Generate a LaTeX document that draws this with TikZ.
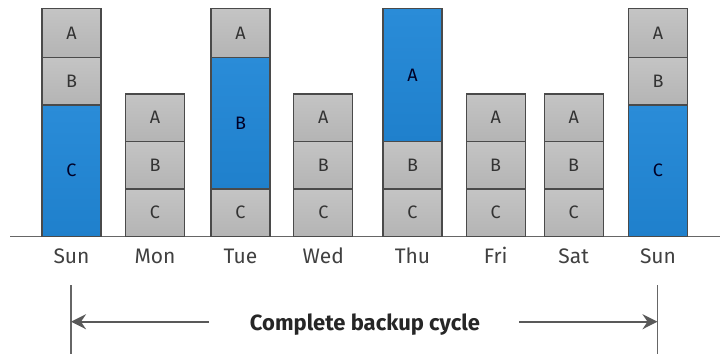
\documentclass[tikz,border=0pt]{standalone}
\usepackage{fontspec}
\setmainfont{Fira Sans}
\usetikzlibrary{arrows.meta}
\definecolor{segblue}{HTML}{2A8CD8}
\definecolor{segblue2}{HTML}{1F80CC}
\definecolor{seggrey}{HTML}{C4C4C4}
\definecolor{seggrey2}{HTML}{B4B4B4}
\definecolor{edgegrey}{HTML}{4A4A4A}

\begin{document}
\begin{tikzpicture}[
    x=1pt, y=-1pt, % pixel units, (0,0) at top left
    seg/.style={draw=edgegrey, line width=1.3pt, minimum width=59pt, inner sep=0pt,
        font=\fontsize{18}{18}\selectfont, text=black!80},
    gseg/.style={seg, top color=seggrey, bottom color=seggrey2},
    bseg/.style={seg, top color=segblue, bottom color=segblue2, text=black!85!blue},
    day/.style={font=\fontsize{21}{21}\selectfont, text=black!75, anchor=base},
    dim/.style={draw=black!60, line width=1.4pt},
    arr/.style={-{Stealth[length=15pt, width=15pt, inset=5pt]}, line width=2pt, draw=black!65}
]
\useasboundingbox (0,0) rectangle (720,354);
\def\base{236.5}
% ground line
\coordinate (base-l) at (10,\base);
\coordinate (base-r) at (720,\base);
\draw[dim] (base-l) -- (base-r);
% one stack per day: x / top of A / A-B / B-C / styles / name / label
\foreach \x/\ya/\yb/\yc/\sa/\sb/\sc/\d/\day in {
    71.5/8.5/57.5/105/gseg/gseg/bseg/sun1/Sun,
    155/94/141.5/189/gseg/gseg/gseg/mon/Mon,
    240.5/8.5/57.5/189/gseg/bseg/gseg/tue/Tue,
    323.3/94/141.5/189/gseg/gseg/gseg/wed/Wed,
    412.5/8.5/141.5/189/bseg/gseg/gseg/thu/Thu,
    495.7/94/141.5/189/gseg/gseg/gseg/fri/Fri,
    573.7/94/141.5/189/gseg/gseg/gseg/sat/Sat,
    658/8.5/57.5/105/gseg/gseg/bseg/sun2/Sun} {
    \pgfmathsetmacro{\ha}{\yb-\ya}
    \pgfmathsetmacro{\hb}{\yc-\yb}
    \pgfmathsetmacro{\hc}{\base-\yc}
    \node[\sa, minimum height=\ha pt] (\d-a) at (\x,{(\ya+\yb)/2}) {A};
    \node[\sb, minimum height=\hb pt] (\d-b) at (\x,{(\yb+\yc)/2}) {B};
    \node[\sc, minimum height=\hc pt] (\d-c) at (\x,{(\yc+\base)/2}) {C};
    \node[day] (\d-lbl) at (\x,263) {\day};
}
% backup cycle
\coordinate (cyc-lt) at (71,285);
\coordinate (cyc-lb) at (71,354);
\coordinate (cyc-rt) at (657.5,285);
\coordinate (cyc-rb) at (657.5,354);
\draw[dim] (cyc-lt) -- (cyc-lb);
\draw[dim] (cyc-rt) -- (cyc-rb);
\node[font=\fontsize{22}{22}\selectfont\bfseries, text=black!85, anchor=base] (cyc) at (365,330) {Complete backup cycle};
\coordinate (arr-l) at (209,321.7);
\coordinate (arr-r) at (519,321.7);
\draw[arr] (arr-l) -- (arr-l -| cyc-lt);
\draw[arr] (arr-r) -- (arr-r -| cyc-rt);
\end{tikzpicture}
\end{document}
